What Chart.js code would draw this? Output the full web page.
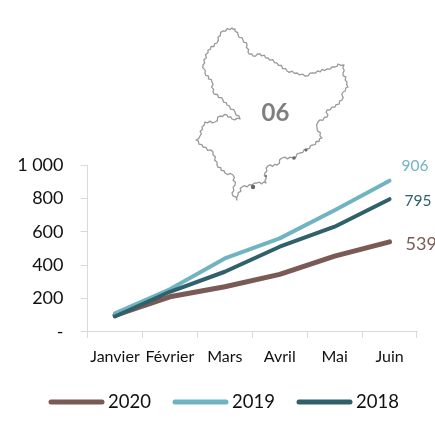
<!DOCTYPE html>
<html><head><meta charset="utf-8">
<style>html,body{margin:0;padding:0;background:#fff}#w{width:435px;height:421px;position:relative}</style>
<script src="https://cdn.jsdelivr.net/npm/chart.js@4"></script></head>
<body><div id="w"><canvas id="c" width="435" height="421"></canvas></div>
<script>
const months = ['Janvier','Février','Mars','Avril','Mai','Juin'];
const v2020 = [98,210,270,344,454,539];
const v2019 = [110,255,440,560,729,906];
const v2018 = [92,240,360,510,630,795];
const yTicks = [0,200,400,600,800,1000];
const cBrown='#7a5a55', cTeal='#70b4c1', cDark='#2f606c';
const FONT='Lato, Carlito, "Open Sans", sans-serif';
// Department outline (decorative picture, not data), in page pixels
const outline = [[232,28],[235,29],[238,35],[243,40],[247,45],[248,52],[253,56],[260,54],[268,58],[277,63],[287,71],[297,73],[305,76],[313,73],[327,69],[335,67],[338,64],[344,65],[343,73],[347,82],[348,87],[343,92],[342,100],[335,107],[327,110],[327,117],[318,122],[317,128],[322,138],[313,145],[307,149],[300,153],[293,158],[282,158],[277,165],[268,166],[265,173],[266,183],[257,183],[252,185],[242,187],[238,195],[237,200],[232,193],[235,185],[233,175],[225,173],[217,165],[213,152],[203,147],[196,140],[200,136],[202,127],[205,122],[215,122],[220,116],[227,115],[232,119],[240,119],[235,112],[227,105],[223,100],[213,92],[212,82],[205,73],[203,65],[208,50],[217,43],[218,37],[223,31]];
const mapPlugin = {id:'map',beforeDatasetsDraw(ch){
  const x=ch.ctx; x.save(); x.filter='blur(0.5px)';
  x.strokeStyle='#9a9a9a'; x.lineWidth=1.3; x.lineJoin='round'; x.beginPath();
  outline.forEach((p,i)=>{
    const q=outline[(i+1)%outline.length];
    const dx=q[0]-p[0],dy=q[1]-p[1],L=Math.hypot(dx,dy)||1,n=Math.max(2,Math.round(L/2.5));
    if(i===0)x.moveTo(p[0],p[1]);
    for(let k=1;k<n;k++){const t=k/n,s=(k%2?1:-1)*0.9;
      x.lineTo(p[0]+dx*t-dy/L*s,p[1]+dy*t+dx/L*s);}
    x.lineTo(q[0],q[1]);
  });
  x.closePath(); x.stroke();
  x.fillStyle='#666';
  [[294,158,1.8],[253,187,2.2],[306,150,1.5],[266,176,1.1]].forEach(b=>{x.beginPath();x.arc(b[0],b[1],b[2],0,7);x.fill();});
  x.restore();
  x.save(); x.fillStyle='#7f7f7f'; x.font='bold 24px '+FONT; x.textAlign='center'; x.textBaseline='middle';
  x.fillText('06',275.5,113.5); x.restore();
}};
const endLabels = {id:'endLabels',afterDatasetsDraw(ch){
  const x=ch.ctx; x.save(); x.textBaseline='middle'; x.textAlign='left';
  const spec=[[0,cBrown,'18px',16,2],[1,cTeal,'15.5px',12,-15],[2,cDark,'15.5px',15,2]];
  spec.forEach(([d,col,fs,ox,oy])=>{
    const pt=ch.getDatasetMeta(d).data[5], val=ch.data.datasets[d].data[5];
    x.fillStyle=col; x.font=fs+' '+FONT; x.fillText(String(val),pt.x+ox,pt.y+oy);
  });
  x.restore();
}};
// Legend swatch + text, with the tighter swatch/text gap of the reference
const legendRow = {id:'legendRow',afterDraw(ch){
  const x=ch.ctx; x.save(); x.textBaseline='middle'; x.textAlign='left'; x.font='18.5px '+FONT;
  ch.data.datasets.forEach((d,i)=>{
    const left=49+i*124, y=402;
    x.strokeStyle=d.borderColor; x.lineWidth=5; x.lineCap='round';
    x.beginPath(); x.moveTo(left+2,y); x.lineTo(left+53,y); x.stroke();
    x.fillStyle='#111'; x.fillText(d.label,left+59,y+0.5);
  });
  x.restore();
}};
const ds=(label,data,color,w,order)=>({label,data,borderColor:color,backgroundColor:color,borderWidth:w,order,pointRadius:0,tension:0,borderCapStyle:'round',borderJoinStyle:'round',clip:false});
new Chart(document.getElementById('c'),{
  type:'line',
  data:{labels:months,datasets:[ds('2020',v2020,cBrown,5,3),ds('2019',v2019,cTeal,4,2),ds('2018',v2018,cDark,4,1)]},
  options:{responsive:false,animation:false,
    layout:{padding:{top:165,right:18,left:0,bottom:46}},
    plugins:{tooltip:{enabled:false},legend:{display:false}},
    scales:{
      x:{offset:true,grid:{offset:true,drawOnChartArea:false,drawTicks:true,tickLength:6,color:'#d9d9d9'},border:{color:'#d9d9d9'},
        ticks:{color:'#111',font:{family:FONT,size:16},padding:9,maxRotation:0,autoSkip:false}},
      y:{min:0,max:1000,afterBuildTicks(s){s.ticks=yTicks.map(value=>({value}));},
        afterFit(s){s.width=87.5;},
        grid:{drawOnChartArea:false,tickLength:7,color:'#d9d9d9'},border:{color:'#d9d9d9'},
        ticks:{color:'#111',font:{family:FONT,size:18},padding:17,
          callback:v=>v===0?'-':(v>=1000?String(v).replace(/(\d)(\d{3})$/,'$1 $2'):String(v))}}
    }},
  plugins:[mapPlugin,endLabels,legendRow]
});
</script></body></html>
